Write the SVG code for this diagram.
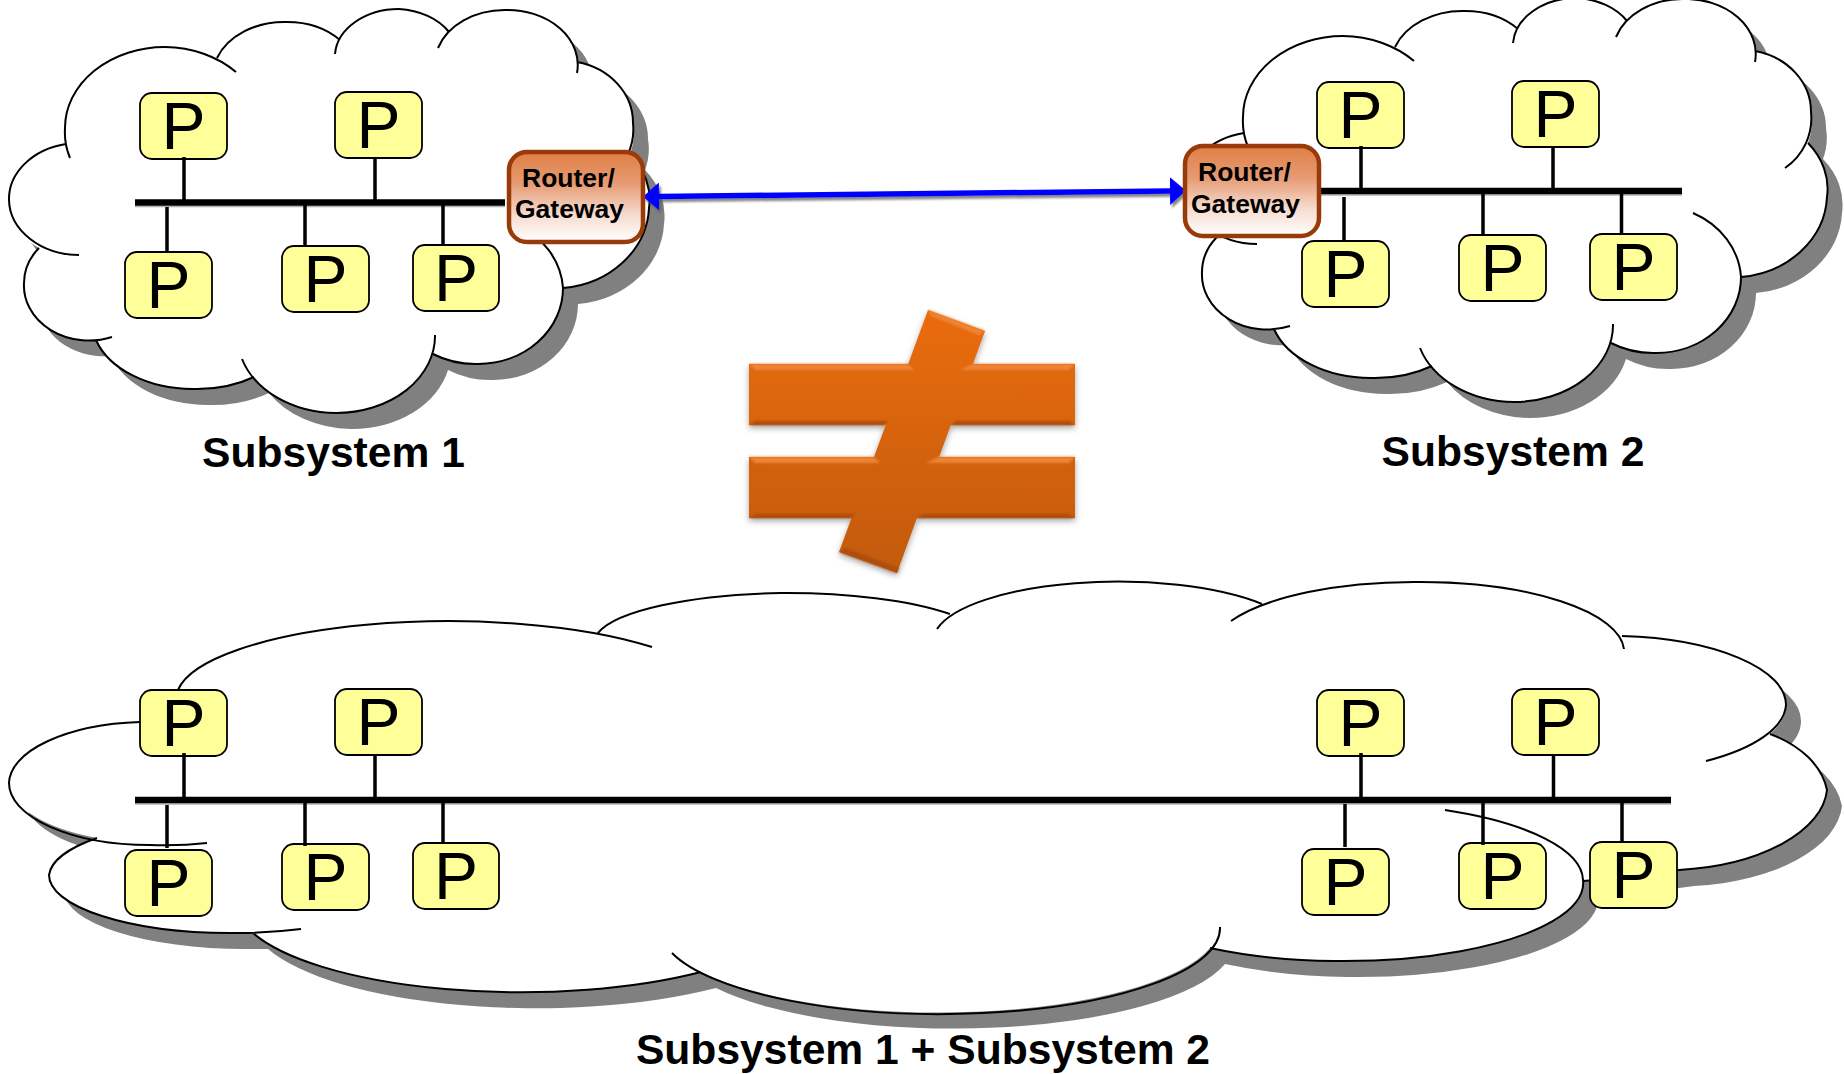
<svg xmlns="http://www.w3.org/2000/svg" xmlns:xlink="http://www.w3.org/1999/xlink" width="1844" height="1074" viewBox="0 0 1844 1074">
<style>
.fill{fill:#fff}
.shadow{fill:#808080}
.edge{fill:none;stroke:#000;stroke-width:2}
.pbox{fill:#ffff99;stroke:#000;stroke-width:1.8}
.ptext{font-family:"Liberation Sans",Arial,sans-serif;font-size:66px;fill:#000;text-anchor:middle}
.bus{stroke:#000;stroke-width:6.5;fill:none}
.busshade{stroke:#b0b0b0;stroke-width:1.5;fill:none}
.stub{stroke:#000;stroke-width:3.5;fill:none}
.rbox{fill:url(#rg);stroke:#993a0a;stroke-width:4.5}
.rtext{font-family:"Liberation Sans",Arial,sans-serif;font-weight:bold;font-size:26.5px;fill:#000}
.title{font-family:"Liberation Sans",Arial,sans-serif;font-weight:bold;font-size:42.6px;fill:#000;text-anchor:middle}
.hi{fill:#ee8436}
.lo{fill:#ad4e0a}
</style>
<defs>
<linearGradient id="rg" x1="0" y1="0" x2="0" y2="1">
<stop offset="0" stop-color="#e07f45"/><stop offset="0.35" stop-color="#e69a72"/><stop offset="0.7" stop-color="#f6dccf"/><stop offset="1" stop-color="#ffffff"/>
</linearGradient>
<linearGradient id="ng" gradientUnits="userSpaceOnUse" x1="0" y1="310" x2="0" y2="573">
<stop offset="0" stop-color="#ea6c0c"/><stop offset="1" stop-color="#c25a0c"/>
</linearGradient>
<filter id="ds" x="-10%" y="-10%" width="120%" height="120%"><feDropShadow dx="0" dy="3" stdDeviation="3" flood-color="#000" flood-opacity="0.35"/></filter>
<filter id="soft" x="-2%" y="-2%" width="104%" height="104%"><feGaussianBlur stdDeviation="1"/></filter>
<filter id="as" filterUnits="userSpaceOnUse" x="620" y="160" width="600" height="70"><feDropShadow dx="2" dy="3" stdDeviation="0.8" flood-color="#555" flood-opacity="0.7"/></filter>
<marker id="ah" markerUnits="userSpaceOnUse" markerWidth="17" markerHeight="28" refX="0" refY="14" orient="auto-start-reverse"><path d="M0,0 L16,14 L0,28 Z" fill="#0000ff"/></marker>
<path id="c1f" d="M217,58 A72,56 0 0 1 286,22 A72,56 0 0 1 340,40 A64,48 0 0 1 399,9 A64,48 0 0 1 449,32 A70,55 0 0 1 505,10 A70,55 0 0 1 577,62 A70,62 0 0 1 633,123 A60,60 0 0 1 630,154 A95,75 0 0 1 649,208 A95,84 0 0 1 563,288 A85,76 0 0 1 478,364 A85,76 0 0 1 433,354 A99,77 0 0 1 336,413 A99,77 0 0 1 254,377 A101,69 0 0 1 193,389 A101,69 0 0 1 96,340 A65,55 0 0 1 24,283 A65,55 0 0 1 39,248 A71,56 0 0 1 9,200 A71,56 0 0 1 66,144 A100,81 0 0 1 165,47 A100,81 0 0 1 217,58 Z"/>
<path id="c1e" d="M70,158 A100,81 0 0 1 65,128 A100,81 0 0 1 165,47 A100,81 0 0 1 236,72 M217,58 A72,56 0 0 1 286,22 A72,56 0 0 1 340,40 M335,54 A64,48 0 0 1 399,9 A64,48 0 0 1 449,32 M438,48 A70,55 0 0 1 505,10 A70,55 0 0 1 577,73 M577,62 A70,62 0 0 1 633,123 A60,60 0 0 1 607,179 M630,154 A95,75 0 0 1 649,208 A95,84 0 0 1 563,288 M515,224 A85,76 0 0 1 563,288 A85,76 0 0 1 478,364 A85,76 0 0 1 433,354 M435,335 A99,77 0 0 1 336,413 A99,77 0 0 1 242,359 M254,377 A101,69 0 0 1 193,389 A101,69 0 0 1 96,340 M112,337 A65,55 0 0 1 24,283 A65,55 0 0 1 39,248 M79,255 A71,56 0 0 1 9,200 A71,56 0 0 1 66,144"/>
<path id="c3f" d="M598,633 A200,50 0 0 1 780,593 A200,50 0 0 1 950,614 A185,60 0 0 1 1262,604 A204,70 0 0 1 1419,582 A204,70 0 0 1 1622,636 A176,69 0 0 1 1786,705 A176,69 0 0 1 1770,734 A110,75 0 0 1 1827,790 A165,85 0 0 1 1679,870 L1620,878 L1583,881 A240,78 0 0 1 1210,948 A280,86 0 0 1 701,972 A285,90 0 0 1 253,933 A181,58 0 0 1 230,933 A181,58 0 0 1 49,875 A181,58 0 0 1 97,838 A141,62 0 0 1 9,783 A141,62 0 0 1 140,722 L178,690 A273,78 0 0 1 598,633 Z"/>
<path id="c3e" d="M178,690 A273,78 0 0 1 652,647 M598,633 A200,50 0 0 1 780,593 A200,50 0 0 1 950,614 M937,629 A185,60 0 0 1 1262,604 M1231,621 A204,70 0 0 1 1419,582 A204,70 0 0 1 1624,649 M1622,636 A176,69 0 0 1 1786,705 A176,69 0 0 1 1706,761 M1770,734 A110,75 0 0 1 1827,790 A165,85 0 0 1 1679,870 L1620,878 L1583,881 M1445,810 A240,78 0 0 1 1583,880 A240,78 0 0 1 1210,948 M1220,927 A280,86 0 0 1 672,953 M701,972 A285,90 0 0 1 253,933 M301,929 A181,58 0 0 1 230,933 A181,58 0 0 1 49,875 A181,58 0 0 1 97,838 M207,843 Q180,846 150,845 A141,62 0 0 1 9,783 A141,62 0 0 1 140,722"/>
</defs>

<g id="cloud-1">
<use xlink:href="#c1f" href="#c1f" class="shadow" transform="translate(15,16)"/>
<use xlink:href="#c1f" href="#c1f" class="fill"/>
<use xlink:href="#c1e" href="#c1e" class="edge"/>
</g>
<g id="cloud-2" transform="translate(1178,-11)">
<use xlink:href="#c1f" href="#c1f" class="shadow" transform="translate(15,16)"/>
<use xlink:href="#c1f" href="#c1f" class="fill"/>
<use xlink:href="#c1e" href="#c1e" class="edge"/>
</g>
<g id="cloud-3">
<use xlink:href="#c3f" href="#c3f" class="shadow" transform="translate(15,16)"/>
<use xlink:href="#c3f" href="#c3f" class="fill"/>
<use xlink:href="#c3e" href="#c3e" class="edge"/>
</g>

<g id="not-equal">
<g filter="url(#ds)">
<polygon fill="url(#ng)" points="928,310 985,331 897,573 839,552"/>
<rect fill="url(#ng)" x="749" y="364" width="326" height="61"/>
<rect fill="url(#ng)" x="749" y="457" width="326" height="61"/>
</g>
<g filter="url(#soft)">
<polygon class="hi" points="749,364 908,364 914,370 755,370"/>
<polygon class="hi" points="960,370 973,364 1075,364 1069,370"/>
<polygon class="hi" points="749,457 874,457 880,463 755,463"/>
<polygon class="hi" points="926,463 939,457 1075,457 1069,463"/>
<polygon class="hi" points="928,310 985,331 979,335 931,316"/>
<polygon class="lo" points="749,425 884,425 888,421 755,421"/>
<polygon class="lo" points="951,425 1075,425 1069,421 956,421"/>
<polygon class="lo" points="749,518 851,518 856,514 755,514"/>
<polygon class="lo" points="917,518 1075,518 1069,514 922,514"/>
<polygon class="lo" points="839,552 897,573 899,568 845,548"/>
</g>
</g>

<g id="c1-p1"><rect class="pbox" x="140" y="93" width="87" height="66" rx="12"/><text class="ptext" x="183.500" y="149">P</text></g>
<g id="c1-p2"><rect class="pbox" x="335" y="92" width="87" height="66" rx="12"/><text class="ptext" x="378.500" y="148">P</text></g>
<g id="c1-p3"><rect class="pbox" x="125" y="252" width="87" height="66" rx="12"/><text class="ptext" x="168.500" y="308">P</text></g>
<g id="c1-p4"><rect class="pbox" x="282" y="246" width="87" height="66" rx="12"/><text class="ptext" x="325.500" y="302">P</text></g>
<g id="c1-p5"><rect class="pbox" x="413" y="245" width="86" height="66" rx="12"/><text class="ptext" x="456" y="301">P</text></g>

<g id="c2-p1"><rect class="pbox" x="1317" y="82" width="87" height="66" rx="12"/><text class="ptext" x="1360.500" y="138">P</text></g>
<g id="c2-p2"><rect class="pbox" x="1512" y="81" width="87" height="66" rx="12"/><text class="ptext" x="1555.500" y="137">P</text></g>
<g id="c2-p3"><rect class="pbox" x="1302" y="241" width="87" height="66" rx="12"/><text class="ptext" x="1345.500" y="297">P</text></g>
<g id="c2-p4"><rect class="pbox" x="1459" y="235" width="87" height="66" rx="12"/><text class="ptext" x="1502.500" y="291">P</text></g>
<g id="c2-p5"><rect class="pbox" x="1590" y="234" width="87" height="66" rx="12"/><text class="ptext" x="1633.500" y="290">P</text></g>

<g id="c3-p1"><rect class="pbox" x="140" y="690" width="87" height="66" rx="12"/><text class="ptext" x="183.500" y="746">P</text></g>
<g id="c3-p2"><rect class="pbox" x="335" y="689" width="87" height="66" rx="12"/><text class="ptext" x="378.500" y="745">P</text></g>
<g id="c3-p3"><rect class="pbox" x="125" y="850" width="87" height="66" rx="12"/><text class="ptext" x="168.500" y="906">P</text></g>
<g id="c3-p4"><rect class="pbox" x="282" y="844" width="87" height="66" rx="12"/><text class="ptext" x="325.500" y="900">P</text></g>
<g id="c3-p5"><rect class="pbox" x="413" y="843" width="86" height="66" rx="12"/><text class="ptext" x="456" y="899">P</text></g>
<g id="c3-p6"><rect class="pbox" x="1317" y="690" width="87" height="66" rx="12"/><text class="ptext" x="1360.500" y="746">P</text></g>
<g id="c3-p7"><rect class="pbox" x="1512" y="689" width="87" height="66" rx="12"/><text class="ptext" x="1555.500" y="745">P</text></g>
<g id="c3-p8"><rect class="pbox" x="1302" y="849" width="87" height="66" rx="12"/><text class="ptext" x="1345.500" y="905">P</text></g>
<g id="c3-p9"><rect class="pbox" x="1459" y="843" width="87" height="66" rx="12"/><text class="ptext" x="1502.500" y="899">P</text></g>
<g id="c3-p10"><rect class="pbox" x="1590" y="842" width="87" height="66" rx="12"/><text class="ptext" x="1633.500" y="898">P</text></g>

<g id="connectors">
<path class="busshade" d="M135,206.500 H505 M1320,195 H1682 M135,804 H1671"/>
<path class="bus" d="M135,202.500 H505 M1320,191 H1682 M135,800 H1671"/>
<path class="stub" d="M184,157 V200 M375,158 V200 M167,207 V251 M305,205 V247 M443,205 V245"/>
<path class="stub" d="M1361,146 V189 M1553,147 V189 M1344,197 V240 M1483,194 V236 M1621.500,194 V234"/>
<path class="stub" d="M184,753 V797 M375,756 V797 M167,805 V848 M305,803 V846 M443,803 V843 M1361,753 V797 M1553.500,756 V797 M1345,804 V847 M1483,803 V845 M1622,803 V843"/>
<path id="link" d="M659,196.500 L1170,191" stroke="#0000ff" stroke-width="5.500" fill="none" marker-start="url(#ah)" marker-end="url(#ah)" filter="url(#as)"/>
</g>

<g id="router-1"><rect class="rbox" x="509" y="152" width="134" height="90" rx="18"/><text class="rtext" x="522" y="187">Router/</text><text class="rtext" x="515" y="218">Gateway</text></g>
<g id="router-2"><rect class="rbox" x="1185" y="146" width="134" height="90" rx="18"/><text class="rtext" x="1198" y="181">Router/</text><text class="rtext" x="1191" y="213">Gateway</text></g>

<text class="title" x="333.500" y="467">Subsystem 1</text>
<text class="title" x="1513" y="466">Subsystem 2</text>
<text class="title" x="923" y="1064">Subsystem 1 + Subsystem 2</text>
</svg>
